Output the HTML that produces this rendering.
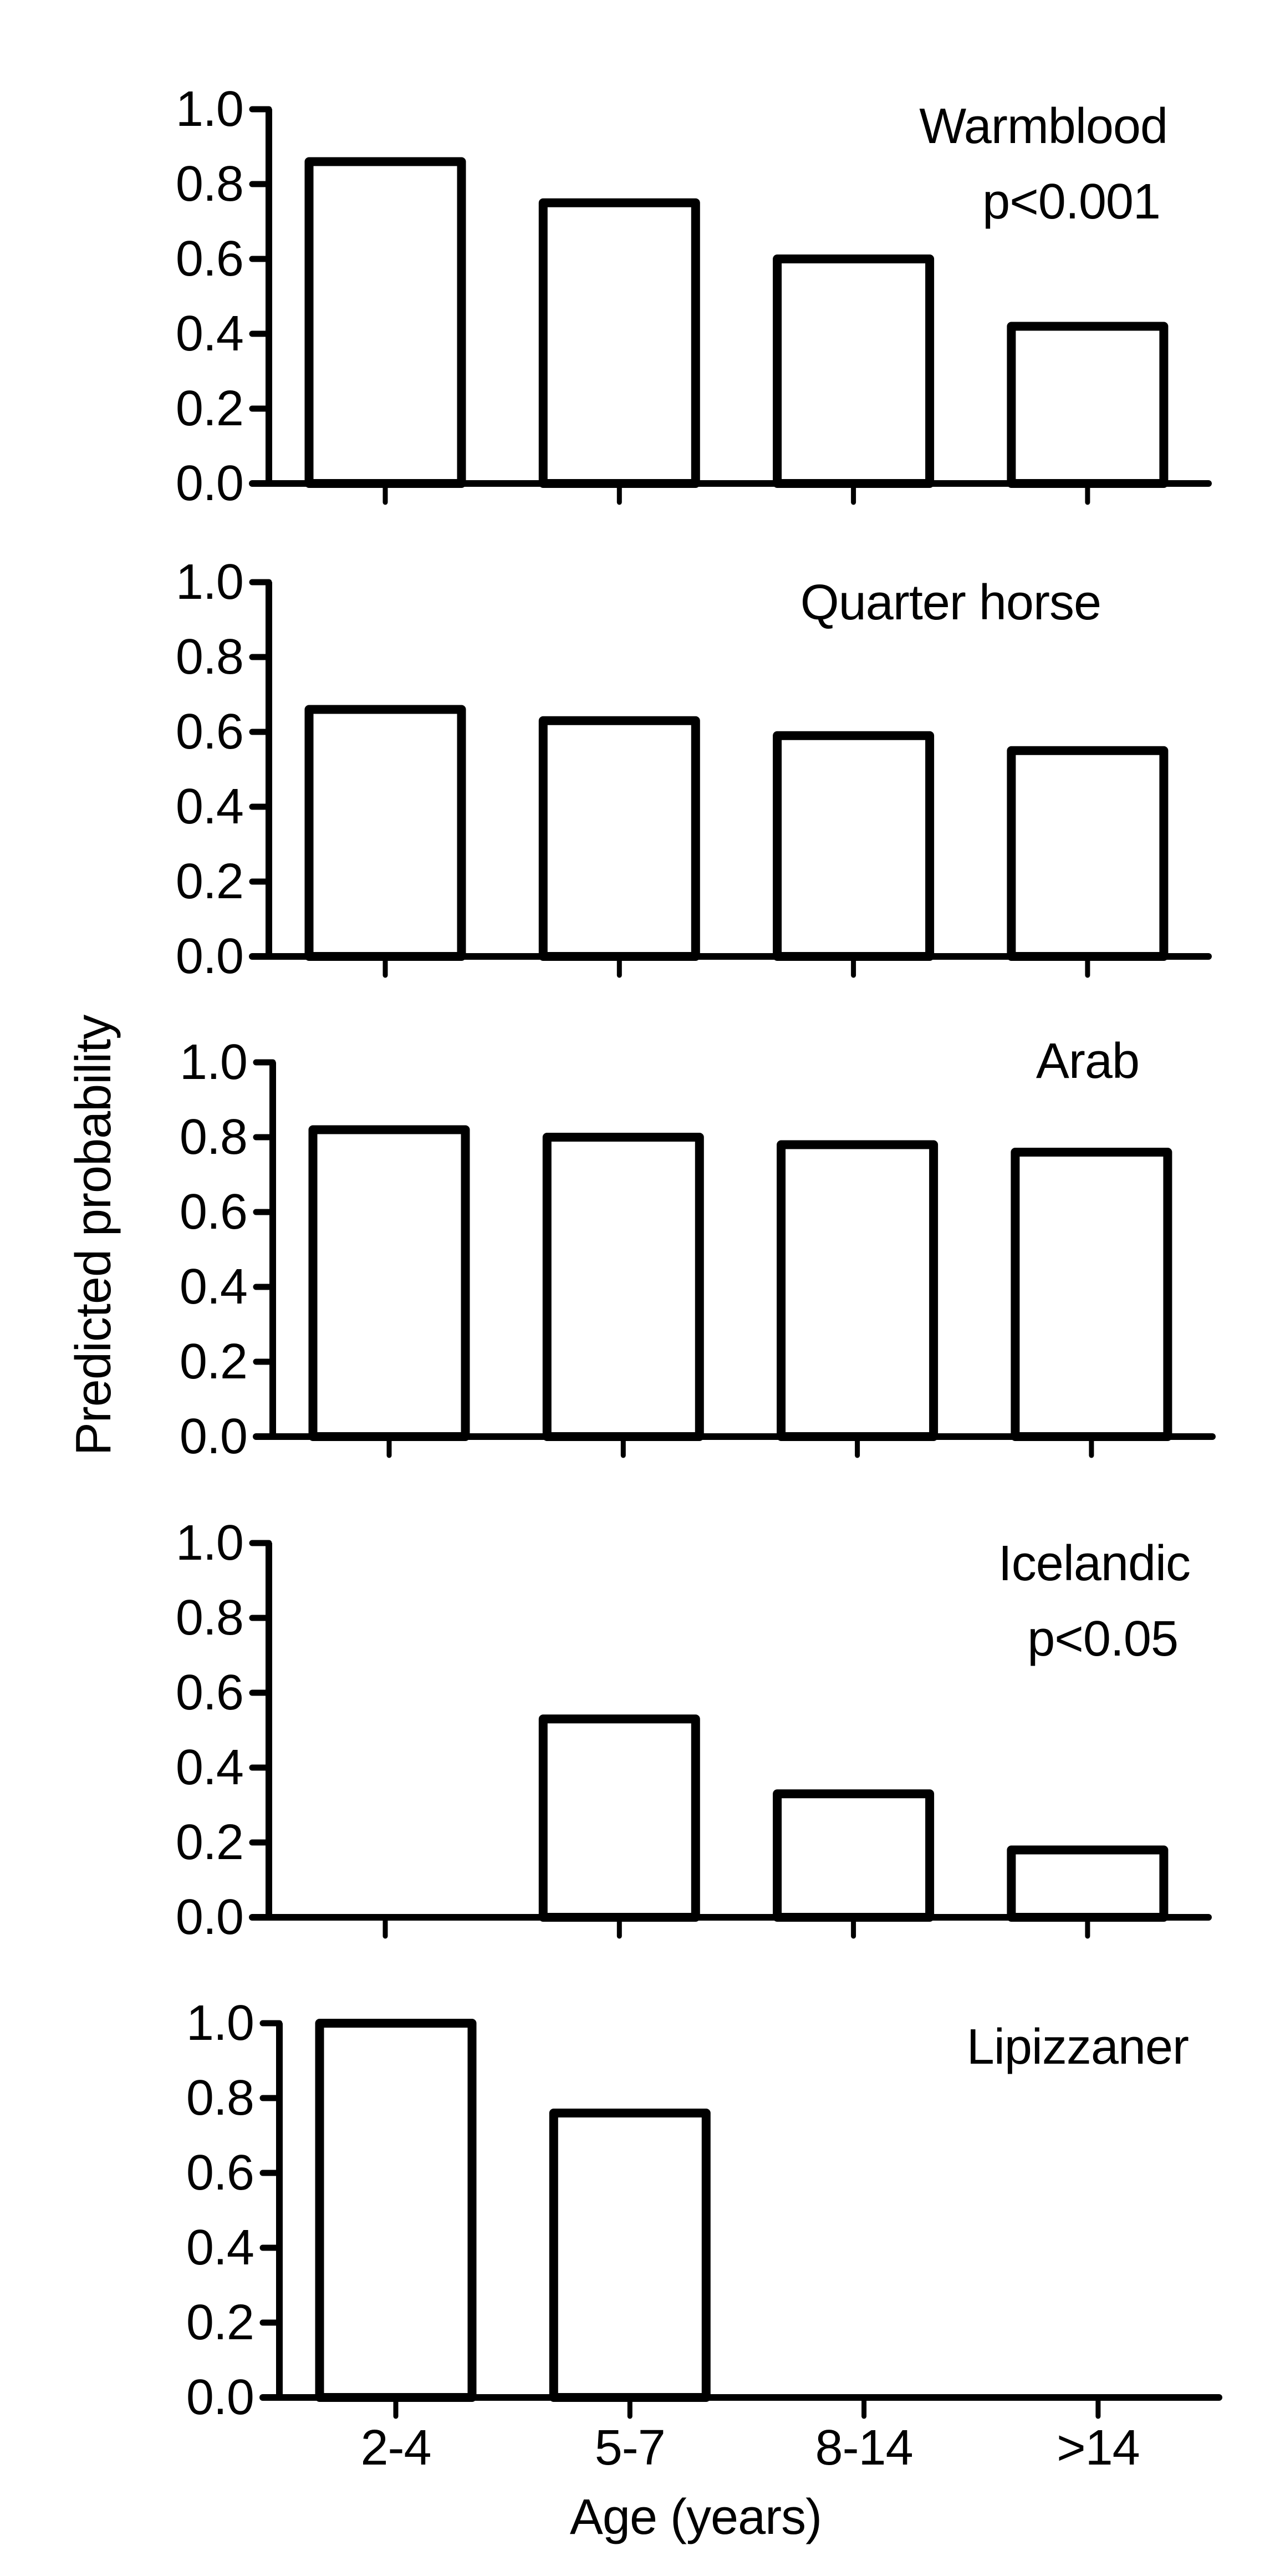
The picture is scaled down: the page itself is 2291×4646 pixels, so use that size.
<!DOCTYPE html>
<html><head><meta charset="utf-8"><style>
html,body{margin:0;padding:0;background:#fff}
svg{display:block}
text{font-family:"Liberation Sans",Arial,sans-serif;fill:#000;letter-spacing:-1px}
</style></head><body>
<svg id="chart" width="2291" height="4646" viewBox="0 0 2291 4646" xmlns="http://www.w3.org/2000/svg">
<rect width="2291" height="4646" fill="#fff"/>
</svg>
<script>
const categories = ["2-4","5-7","8-14",">14"];
const breeds = ["Warmblood","Quarter horse","Arab","Icelandic","Lipizzaner"];
const pvalues = ["p<0.001","","","p<0.05",""];
const warmblood = [0.86,0.75,0.60,0.42];
const quarterHorse = [0.66,0.63,0.59,0.55];
const arab = [0.82,0.80,0.78,0.76];
const icelandic = [null,0.53,0.33,0.18];
const lipizzaner = [1.0,0.76,null,null];
const yTicks = [0,0.2,0.4,0.6,0.8,1.0];
const yTickLabels = ["0.0","0.2","0.4","0.6","0.8","1.0"];

const series = [warmblood,quarterHorse,arab,icelandic,lipizzaner];
const panelTop = [197,1050,1916,2783,3649];
const panelDx = [0,0,7,0,19];
const titleY = [258,1117,1944,2850,3722];
const titleRight = [2106,1986,2055,2147,2144];
const pY = [394,0,0,2986,0];
const pRight = [2093,0,0,2125,0];
const SPAN = 675;
const NS = "http://www.w3.org/2000/svg";
const svg = document.getElementById('chart');

function mk(tag, attrs, parent){
  const e = document.createElementNS(NS, tag);
  for (const k in attrs) e.setAttribute(k, attrs[k]);
  (parent||svg).appendChild(e);
  return e;
}

series.forEach((vals, p) => {
  const g = mk('g', {});
  
  
  const dx = panelDx[p];
  const axisX = 485 + dx;
  const top = panelTop[p];
  const yScale = v => top + SPAN * (1 - v);
  const xScale = i => axisX + 210 + i * 422.3;
  const base = yScale(0);

  vals.forEach((v, i) => {
    if (v === null) return;
    const cx = xScale(i);
    const bw = 275;
    const r = mk('rect', {x: cx - bw/2, y: yScale(v), width: bw, height: base - yScale(v), fill: '#fff', stroke: '#000', 'stroke-width': 16, 'stroke-linejoin': 'round'}, g);
    
    
  });

  const ya = mk('line', {x1: axisX, y1: yScale(1), x2: axisX, y2: base, stroke: '#000', 'stroke-width': 12}, g);
  
  
  const xa = mk('line', {x1: axisX - 30, y1: base, x2: 2180 + dx, y2: base, stroke: '#000', 'stroke-width': 12, 'stroke-linecap': 'round'}, g);
  
  

  yTicks.forEach((t, k) => {
    const y = yScale(t);
    const tl = mk('line', {x1: axisX - 30, y1: y, x2: axisX, y2: y, stroke: '#000', 'stroke-width': 11, 'stroke-linecap': 'round'}, g);
    
    
    const tx = mk('text', {x: axisX - 46, y: y + 30, 'font-size': 90, 'text-anchor': 'end'}, g);
    tx.textContent = yTickLabels[k];
    
    
  });

  categories.forEach((c, i) => {
    const x = xScale(i);
    const xt = mk('line', {x1: x, y1: base, x2: x, y2: base + 34, stroke: '#000', 'stroke-width': 9, 'stroke-linecap': 'round'}, g);
    
    
    if (p === 4) {
      const lt = mk('text', {x: x, y: 4445, 'font-size': 90, 'text-anchor': 'middle'}, g);
      lt.textContent = c;
      
      
    }
  });

  const tt = mk('text', {x: titleRight[p], y: titleY[p], 'font-size': 90, 'text-anchor': 'end'}, g);
  tt.textContent = breeds[p];
  
  
  if (pvalues[p]) {
    const pt = mk('text', {x: pRight[p], y: pY[p], 'font-size': 90, 'text-anchor': 'end'}, g);
    pt.textContent = pvalues[p];
    
    
  }
});

const xt = mk('text', {x: 1255, y: 4570, 'font-size': 90, 'text-anchor': 'middle'});
xt.textContent = 'Age (years)';


const yt = mk('text', {x: 0, y: 0, 'font-size': 90, 'text-anchor': 'middle', transform: 'translate(199,2228) rotate(-90)'});
yt.textContent = 'Predicted probability';


</script>
</body></html>
